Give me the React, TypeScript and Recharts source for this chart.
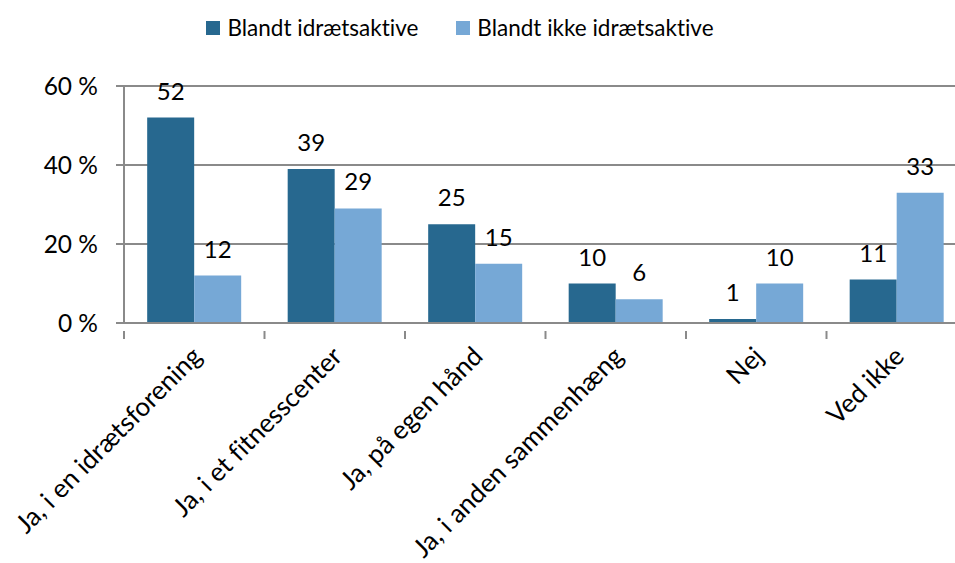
import { BarChart, Bar, XAxis, YAxis, CartesianGrid, Legend, LabelList } from 'recharts'

const categories = [
  'Ja, i en idrætsforening',
  'Ja, i et fitnesscenter',
  'Ja, på egen hånd',
  'Ja, i anden sammenhæng',
  'Nej',
  'Ved ikke',
]
const aktive = [52, 39, 25, 10, 1, 11]
const ikkeAktive = [12, 29, 15, 6, 10, 33]
const yTicks = [0, 20, 40, 60]

const seriesNames = ['Blandt idrætsaktive', 'Blandt ikke idrætsaktive']
const colors = ['#27688F', '#76A8D6']

const data = categories.map((name, i) => ({ name, aktive: aktive[i], ikke: ikkeAktive[i] }))

const FONT = 'Lato, "Open Sans", sans-serif'
const GRID = '#8a8a8a'
const NO_LIGA = { fontVariantLigatures: 'none' as const }

const CHART_W = 1000
const CHART_H = 563
const MARGIN = { top: 86, right: 33, bottom: 10, left: 0 }
const Y_W = 124
const BAND = (CHART_W - MARGIN.left - MARGIN.right - Y_W) / categories.length

function CategoryTick(props: any) {
  const { x, y, payload, index } = props
  const ax = x + 9
  const ay = y + 27
  return (
    <g>
      <line x1={x - BAND / 2} x2={x - BAND / 2} y1={y} y2={y + 8} stroke={GRID} strokeWidth={2} />
      {index === categories.length - 1 && (
        <line x1={x + BAND / 2} x2={x + BAND / 2} y1={y} y2={y + 8} stroke={GRID} strokeWidth={2} />
      )}
      <text
        x={ax}
        y={ay}
        transform={`rotate(-45, ${ax}, ${ay})`}
        textAnchor="end"
        fontSize={26}
        fontFamily={FONT}
        fill="#000"
        style={NO_LIGA}
      >
        {payload.value}
      </text>
    </g>
  )
}

function LegendContent() {
  return (
    <div style={{ display: 'flex', justifyContent: 'center', gap: 38, fontFamily: FONT, fontSize: 22.5, color: '#000', ...NO_LIGA }}>
      {seriesNames.map((n, i) => (
        <div key={n} style={{ display: 'flex', alignItems: 'center' }}>
          <span style={{ display: 'inline-block', width: 14, height: 14, background: colors[i], marginRight: 7 }} />
          {n}
        </div>
      ))}
    </div>
  )
}

const labelStyle = { fontSize: 24, fontFamily: FONT, fill: '#000' }

export default function App() {
  return (
    <div style={{ position: 'absolute', left: 0, top: 0, width: 955, height: 563, overflow: 'hidden', background: '#fff' }}>
      <BarChart
        width={CHART_W}
        height={CHART_H}
        data={data}
        margin={MARGIN}
        barCategoryGap="16.5%"
        barGap={0}
      >
        <CartesianGrid vertical={false} stroke={GRID} strokeWidth={2} />
        <XAxis
          dataKey="name"
          height={230}
          tickLine={false}
          axisLine={{ stroke: GRID, strokeWidth: 2 }}
          tick={<CategoryTick />}
          interval={0}
        />
        <YAxis
          width={Y_W}
          domain={[0, 60]}
          ticks={yTicks}
          tickFormatter={(v: number) => `${v} %`}
          axisLine={{ stroke: GRID, strokeWidth: 2 }}
          tickLine={{ stroke: GRID, strokeWidth: 2 }}
          tickSize={8}
          tickMargin={18}
          tick={{ fontSize: 24.5, fontFamily: FONT, fill: '#000' }}
        />
        <Legend
          layout="horizontal"
          verticalAlign="middle"
          align="center"
          wrapperStyle={{ top: 14, left: 0, width: 920 }}
          content={<LegendContent />}
        />
        <Bar dataKey="aktive" name={seriesNames[0]} fill={colors[0]} isAnimationActive={false}>
          <LabelList dataKey="aktive" position="top" offset={18} style={labelStyle} />
        </Bar>
        <Bar dataKey="ikke" name={seriesNames[1]} fill={colors[1]} isAnimationActive={false}>
          <LabelList dataKey="ikke" position="top" offset={18} style={labelStyle} />
        </Bar>
      </BarChart>
    </div>
  )
}
